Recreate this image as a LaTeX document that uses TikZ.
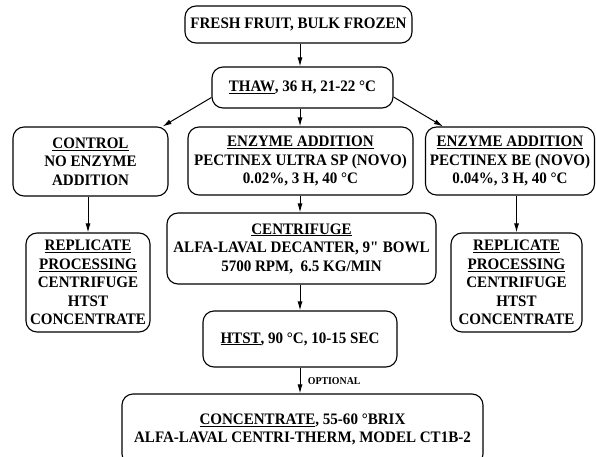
\documentclass[tikz,border=0pt]{standalone}
\usepackage{fontspec}
\setmainfont{Liberation Serif}[FakeStretch=0.94]
\usetikzlibrary{arrows.meta}

\begin{document}
\begin{tikzpicture}[x=1pt,y=-1pt,
    box/.style={draw,line width=1.1pt,rounded corners=11pt,align=center,inner sep=0pt,
      font=\fontsize{16}{18.5}\selectfont\bfseries},
    flow/.style={line width=1pt,-{Latex[length=9pt,width=5pt]}}]
    \useasboundingbox (0,0) rectangle (596,457);
    \coordinate (axis) at (300,0);
    \node[box,minimum width=227,minimum height=37] (fresh) at (298.5,24.5) {FRESH FRUIT, BULK FROZEN};
    \node[box,minimum width=181,minimum height=41] (thaw) at (302.5,87.5) {\underline{THAW}, 36 H, 21-22 °C};
    \node[box,minimum width=155,minimum height=69] (control) at (90.5,161.5) {\underline{CONTROL}\\NO ENZYME\\ADDITION};
    \node[box,minimum width=225,minimum height=68] (enzmid) at (300.5,161)
      {\underline{ENZYME ADDITION}\\PECTINEX ULTRA SP (NOVO)\\0.02\%, 3 H, 40 °C};
    \node[box,minimum width=169,minimum height=68] (enzright) at (510,161)
      {\underline{ENZYME ADDITION}\\PECTINEX BE (NOVO)\\0.04\%, 3 H, 40 °C};
    \node[box,minimum width=269,minimum height=71] (centri) at (301.5,248.5)
      {\underline{CENTRIFUGE}\\ALFA-LAVAL DECANTER, 9\textquotedbl{} BOWL\\5700 RPM,\ \ 6.5 KG/MIN};
    \node[box,minimum width=124,minimum height=99] (repleft) at (88,282.5)
      {\underline{REPLICATE}\\\underline{PROCESSING}\\CENTRIFUGE\\HTST\\CONCENTRATE};
    \node[box,minimum width=131,minimum height=99] (repright) at (516.5,282.5)
      {\underline{REPLICATE}\\\underline{PROCESSING}\\CENTRIFUGE\\HTST\\CONCENTRATE};
    \node[box,minimum width=194,minimum height=56] (htst) at (300,339) {\underline{HTST}, 90 °C, 10-15 SEC};
    \node[box,minimum width=361,minimum height=71] (conc) at (302.5,429.5)
      {\underline{CONCENTRATE}, 55-60 °BRIX\\ALFA-LAVAL CENTRI-THERM, MODEL CT1B-2};
    \draw[flow] (fresh.south -| axis) -- (thaw.north -| axis);
    \draw[flow] (thaw.south -| axis) -- (enzmid.north -| axis);
    \draw[flow] ([yshift=-10pt]thaw.west) -- ([xshift=-6pt]control.north east);
    \draw[flow] ([yshift=-9.5pt]thaw.east) -- ([xshift=18pt]enzright.north west);
    \draw[flow] (control.south -| repleft) -- (repleft);
    \draw[flow] (enzright.south -| repright) -- (repright);
    \draw[flow] (enzmid.south -| axis) -- (centri.north -| axis);
    \draw[flow] (centri.south -| axis) -- (htst.north -| axis);
    \draw[flow] (htst.south -| axis) -- node[right,font=\fontsize{10.5}{12}\selectfont\bfseries,xshift=4pt,yshift=-1pt] {OPTIONAL} (conc.north -| axis);
\end{tikzpicture}
\end{document}
